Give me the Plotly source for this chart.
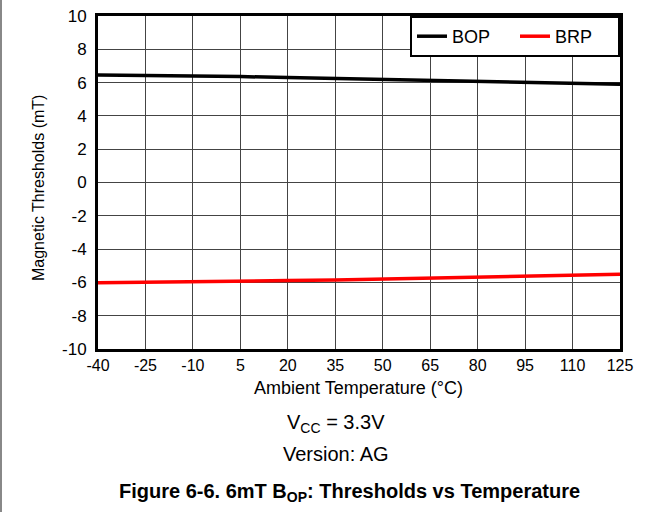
import plotly.graph_objects as go

temps = [-40, -25, -10, 5, 20, 35, 50, 65, 80, 95, 110, 125]
bop = [6.46, 6.44, 6.40, 6.36, 6.31, 6.25, 6.17, 6.10, 6.04, 5.99, 5.95, 5.90]
brp = [-6.02, -6.00, -5.97, -5.93, -5.89, -5.85, -5.79, -5.73, -5.68, -5.62, -5.56, -5.51]
x_ticks = [-40, -25, -10, 5, 20, 35, 50, 65, 80, 95, 110, 125]
y_ticks = [-10, -8, -6, -4, -2, 0, 2, 4, 6, 8, 10]

FONT = "Liberation Sans, Arial, sans-serif"
W, H = 664, 512
L, R, T, B = 98, 44, 16, 163
PW = W - L - R
PH = H - T - B

fig = go.Figure()
fig.add_trace(go.Scatter(x=temps, y=bop, mode="lines", name="BOP",
                         line=dict(color="black", width=3.5)))
fig.add_trace(go.Scatter(x=temps, y=brp, mode="lines", name="BRP",
                         line=dict(color="#ff0000", width=3.5)))

def py(pix):
    return (H - B - pix) / PH

def px(pix):
    return (pix - L) / PW

fig.update_layout(
    width=W, height=H,
    margin=dict(l=L, r=R, t=T, b=B, pad=0),
    paper_bgcolor="white", plot_bgcolor="white",
    font=dict(family=FONT, size=17, color="black"),
    showlegend=True,
    legend=dict(orientation="h", x=1, y=1, xanchor="right", yanchor="top",
                bgcolor="white", bordercolor="black", borderwidth=2,
                font=dict(size=18, color="black"),
                itemwidth=30, traceorder="normal",
                entrywidth=58, entrywidthmode="pixels"),
    xaxis=dict(range=[-40, 125], tickmode="array", tickvals=x_ticks,
               ticktext=[str(v) for v in x_ticks],
               showgrid=True, gridcolor="#444444", gridwidth=1,
               showline=True, linecolor="black", linewidth=3, mirror=True,
               ticks="", zeroline=False, tickfont=dict(size=16),
               automargin=False, fixedrange=True),
    yaxis=dict(range=[-10, 10], tickmode="array", tickvals=y_ticks,
               ticktext=[str(v) for v in y_ticks],
               showgrid=True, gridcolor="#444444", gridwidth=1,
               showline=True, linecolor="black", linewidth=3, mirror=True,
               ticks="outside", ticklen=5, tickcolor="rgba(0,0,0,0)",
               zeroline=False, tickfont=dict(size=17),
               automargin=False, fixedrange=True),
    annotations=[
        dict(text="Magnetic Thresholds (mT)", xref="paper", yref="paper",
             x=px(38), y=py(188), xanchor="center", yanchor="middle", textangle=-90,
             showarrow=False, font=dict(size=16)),
        dict(text="Ambient Temperature (°C)", xref="paper", yref="paper",
             x=px(358), y=py(388), xanchor="center", yanchor="middle",
             showarrow=False, font=dict(size=18)),
        dict(text="V<sub>CC</sub> = 3.3V", xref="paper", yref="paper",
             x=px(336), y=py(423), xanchor="center", yanchor="middle",
             showarrow=False, font=dict(size=20)),
        dict(text="Version: AG", xref="paper", yref="paper",
             x=px(336), y=py(454), xanchor="center", yanchor="middle",
             showarrow=False, font=dict(size=20)),
        dict(text="<b>Figure 6-6. 6mT B<sub>OP</sub>: Thresholds vs Temperature</b>",
             xref="paper", yref="paper",
             x=px(349), y=py(492), xanchor="center", yanchor="middle",
             showarrow=False, font=dict(size=20)),
    ],
    shapes=[
        dict(type="line", xref="paper", yref="paper",
             x0=px(1), x1=px(1), y0=py(0), y1=py(H),
             line=dict(color="#888888", width=2)),
    ],
)

fig.write_html("out.html", config={"displayModeBar": False},
               post_script="document.body.style.margin='0px';")
